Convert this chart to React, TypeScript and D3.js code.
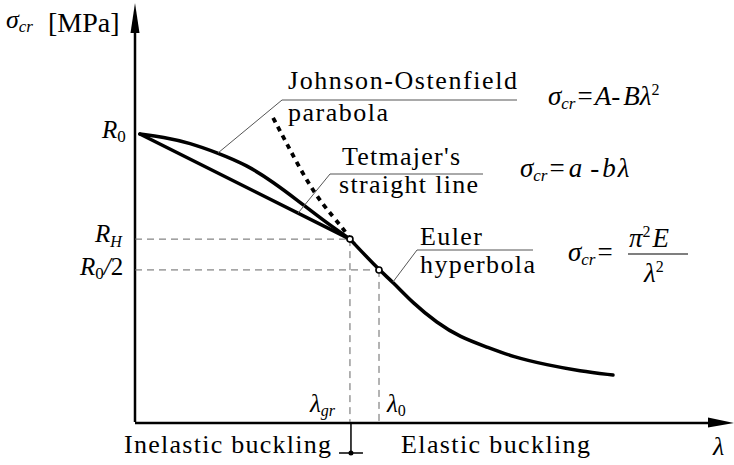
import React, { useEffect } from 'react';
import * as d3 from 'd3';

// slenderness (lambda) and critical stress (sigma), R0 = 100, lambda0 = 100
const lambdaParabola = [2, 11.5, 22.5, 34, 45.9, 56.6, 66.4, 77, 88.1];
const sigmaParabola = [100, 99, 96.9, 93.4, 89.2, 83.3, 77.1, 70.1, 63.5];

const lambdaTetmajer = [2, 88.1];
const sigmaTetmajer = [100, 63.5];

const lambdaEulerDotted = [56.6, 62.3, 69.7, 77, 85.2, 88.1];
const sigmaEulerDotted = [105.6, 96.5, 84.7, 75.3, 67.4, 63.5];

const lambdaEuler = [88.1, 100, 105.7, 113.9, 123.8, 133.2, 144.3, 154.9, 168.9, 182.4, 195.9];
const sigmaEuler = [63.5, 52.8, 48.6, 41.3, 34.4, 29.5, 26.0, 22.6, 19.8, 17.7, 16.3];

// characteristic points: [lambda, sigma]
const pointRH = [88.1, 63.5];
const pointHalf = [100, 52.8];

const W = 734;
const H = 465;
const F = 'Liberation Serif';

const x = d3.scaleLinear().domain([0, 100]).range([135, 379]);
const y = d3.scaleLinear().domain([0, 100]).range([422, 134]);

const line = d3
  .line<[number, number]>()
  .x(d => x(d[0]))
  .y(d => y(d[1]))
  .curve(d3.curveBasis);

const zip = (a: number[], b: number[]) => a.map((v, i) => [v, b[i]] as [number, number]);

const App: React.FC = () => {
  useEffect(() => {
    document.body.style.margin = '0';
  }, []);

  const x0 = x(0);
  const y0 = y(0);
  const leaderParabola = [x(lambdaParabola[3]), y(sigmaParabola[3])];
  const leaderTetmajer = [x(66.8), y(72.5)];
  const leaderEuler = [x(lambdaEuler[2]), y(sigmaEuler[2])];

  return (
    <svg width={W} height={H}>
      {/* axes */}
      <line x1={x0} y1={y0} x2={x0} y2={33} stroke="#000" strokeWidth={2.5} />
      <polygon points={`${x0 - 4.5},33 ${x0 + 4.5},33 ${x0},3`} fill="#000" />
      <line x1={x0} y1={y0 + 1} x2={708} y2={y0 + 1} stroke="#000" strokeWidth={2.5} />
      <polygon points={`708,${y0 - 4.5} 708,${y0 + 5.5} 734,${y0 + 1}`} fill="#000" />

      {/* dashed guides */}
      <g stroke="#666" strokeWidth={1} strokeDasharray="7 5" fill="none">
        <line x1={x0} y1={y(pointRH[1])} x2={x(pointRH[0])} y2={y(pointRH[1])} />
        <line x1={x0} y1={y(pointHalf[1])} x2={x(pointHalf[0])} y2={y(pointHalf[1])} />
        <line x1={x(pointRH[0])} y1={y(pointRH[1])} x2={x(pointRH[0])} y2={y0} />
        <line x1={x(pointHalf[0])} y1={y(pointHalf[1])} x2={x(pointHalf[0])} y2={y0} />
      </g>

      {/* curves */}
      <g fill="none" stroke="#000" strokeLinecap="round">
        <path d={line(zip(lambdaParabola, sigmaParabola)) || ''} strokeWidth={3.5} />
        <path d={line(zip(lambdaTetmajer, sigmaTetmajer)) || ''} strokeWidth={3.5} />
        <path d={line(zip(lambdaEulerDotted, sigmaEulerDotted)) || ''} strokeWidth={3.8} strokeDasharray="5 5" strokeLinecap="butt" />
        <path d={line(zip(lambdaEuler, sigmaEuler)) || ''} strokeWidth={3.5} />
      </g>
      <circle cx={x(pointRH[0])} cy={y(pointRH[1])} r={3} fill="#fff" stroke="#000" strokeWidth={1.6} />
      <circle cx={x(pointHalf[0])} cy={y(pointHalf[1])} r={3} fill="#fff" stroke="#000" strokeWidth={1.6} />

      {/* leader lines */}
      <g stroke="#555" strokeWidth={1} fill="none">
        <polyline points={`${leaderParabola[0]},${leaderParabola[1]} 282,100 517,100`} />
        <polyline points={`${leaderTetmajer[0]},${leaderTetmajer[1]} 330,174 483,174`} />
        <polyline points={`${leaderEuler[0]},${leaderEuler[1]} 417,250 533,250`} />
      </g>

      {/* curve labels */}
      <text x={288} y={89} fontFamily={F} fontSize={26} textLength={229} lengthAdjust="spacing">Johnson-Ostenfield</text>
      <text x={288} y={121} fontFamily={F} fontSize={26} textLength={100} lengthAdjust="spacing">parabola</text>
      <text x={342} y={165} fontFamily={F} fontSize={26} textLength={118} lengthAdjust="spacing">Tetmajer's</text>
      <text x={339} y={193} fontFamily={F} fontSize={26} textLength={139} lengthAdjust="spacing">straight line</text>
      <text x={420} y={245} fontFamily={F} fontSize={26} textLength={62} lengthAdjust="spacing">Euler</text>
      <text x={420} y={273} fontFamily={F} fontSize={26} textLength={115} lengthAdjust="spacing">hyperbola</text>
      <text x={124} y={453} fontFamily={F} fontSize={26} textLength={207} lengthAdjust="spacing">Inelastic buckling</text>
      <text x={401} y={453} fontFamily={F} fontSize={26} textLength={189} lengthAdjust="spacing">Elastic buckling</text>

      {/* boundary tick */}
      <line x1={x(pointRH[0]) + 1} y1={y0 + 1} x2={x(pointRH[0]) + 1} y2={453} stroke="#000" strokeWidth={1.5} />
      <line x1={x(pointRH[0]) - 11} y1={453} x2={x(pointRH[0]) + 13} y2={453} stroke="#000" strokeWidth={1.5} />
      <circle cx={x(pointRH[0]) + 1} cy={453} r={2.5} fill="#000" />

      {/* axis labels */}
      <text x={6} y={28} fontFamily={F} fontSize={26} fontStyle="italic">
        σ<tspan fontSize={17} dy={4}>cr</tspan>
      </text>
      <text x={48} y={32} fontFamily={F} fontSize={28}>[MPa]</text>
      <text x={713} y={455} fontFamily={F} fontSize={26} fontStyle="italic">λ</text>

      <text x={102} y={138} fontFamily={F} fontSize={25} fontStyle="italic">
        R<tspan fontSize={17} fontStyle="normal" dy={4}>0</tspan>
      </text>
      <text x={95} y={242} fontFamily={F} fontSize={25} fontStyle="italic">
        R<tspan fontSize={16} dy={5}>H</tspan>
      </text>
      <text x={80} y={275} fontFamily={F} fontSize={25} fontStyle="italic">
        R<tspan fontSize={17} fontStyle="normal" dy={4}>0</tspan>
        <tspan dy={-4}>/</tspan>
        <tspan fontStyle="normal">2</tspan>
      </text>

      <text x={310} y={412} fontFamily={F} fontSize={25} fontStyle="italic">
        λ<tspan fontSize={16} dy={4}>gr</tspan>
      </text>
      <text x={387} y={412} fontFamily={F} fontSize={25} fontStyle="italic">
        λ<tspan fontSize={16} fontStyle="normal" dy={4}>0</tspan>
      </text>

      {/* formulas */}
      <text x={548} y={105} fontFamily={F} fontSize={27}>
        <tspan fontStyle="italic">σ</tspan>
        <tspan fontStyle="italic" fontSize={17} dy={4}>cr</tspan>
        <tspan dy={-4} dx={2}>=</tspan>
        <tspan fontStyle="italic" dx={2}>A</tspan>
        <tspan>-</tspan>
        <tspan fontStyle="italic" dx={3}>Bλ</tspan>
        <tspan fontSize={16} dy={-10}>2</tspan>
      </text>
      <text x={520} y={177} fontFamily={F} fontSize={27}>
        <tspan fontStyle="italic">σ</tspan>
        <tspan fontStyle="italic" fontSize={17} dy={4}>cr</tspan>
        <tspan dy={-4} dx={2}>=</tspan>
        <tspan fontStyle="italic" dx={4}>a</tspan>
        <tspan dx={8}>-</tspan>
        <tspan fontStyle="italic" dx={3}>b</tspan>
        <tspan fontStyle="italic" dx={2}>λ</tspan>
      </text>
      <text x={568} y={261} fontFamily={F} fontSize={27}>
        <tspan fontStyle="italic">σ</tspan>
        <tspan fontStyle="italic" fontSize={17} dy={4}>cr</tspan>
        <tspan dy={-4} dx={2}>=</tspan>
      </text>
      <text x={629} y={247} fontFamily={F} fontSize={27}>
        <tspan fontStyle="italic">π</tspan>
        <tspan fontSize={16} dy={-10}>2</tspan>
        <tspan fontStyle="italic" dy={10} dx={2}>E</tspan>
      </text>
      <line x1={628} y1={254} x2={688} y2={254} stroke="#000" strokeWidth={1.2} />
      <text x={644} y={282} fontFamily={F} fontSize={27}>
        <tspan fontStyle="italic">λ</tspan>
        <tspan fontSize={16} dy={-10}>2</tspan>
      </text>
    </svg>
  );
};

export default App;
